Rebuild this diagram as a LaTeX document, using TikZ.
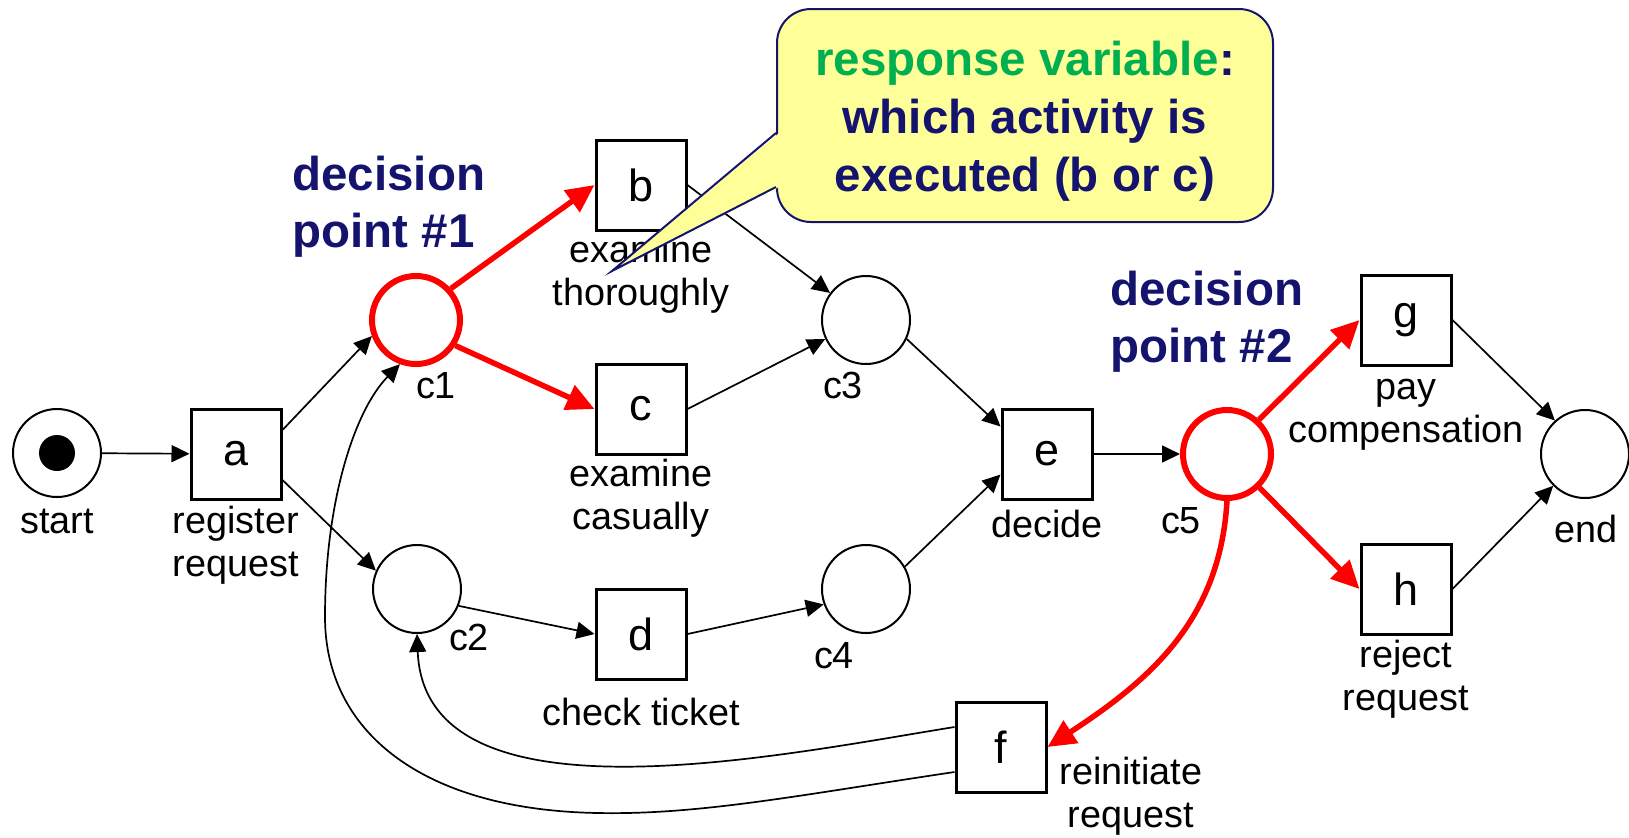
\documentclass[tikz,border=0pt]{standalone}
\usepackage{fontspec}
\setmainfont{Liberation Sans}
\usetikzlibrary{arrows.meta}
\definecolor{navy}{RGB}{20,20,110}
\definecolor{callfill}{RGB}{255,255,153}
\definecolor{respgreen}{RGB}{0,176,80}
\begin{document}
\begin{tikzpicture}[x=0.5pt,y=-0.5pt,
  place/.style={circle,draw,line width=1pt,minimum size=44pt,inner sep=0pt},
  redplace/.style={place,draw=red,line width=3pt},
  token/.style={circle,fill=black,minimum size=18pt,inner sep=0pt},
  trans/.style={rectangle,draw,line width=1.5pt,minimum size=45pt,inner sep=0pt,font=\fontsize{22.5}{25}\selectfont},
  lbl/.style={font=\fontsize{18.9}{21.5}\selectfont,align=center,inner sep=0pt},
  dp/.style={font=\fontsize{23.75}{28.5}\selectfont\bfseries,text=navy,align=left,inner sep=0pt,anchor=west},
  conn/.style={-{Triangle[length=9pt,width=8.5pt]},line width=0.85pt},
  redconn/.style={-{Triangle[length=14pt,width=13pt]},line width=2.75pt,draw=red},
  callout/.style={rectangle,rounded corners=17pt,draw=navy,fill=callfill,line width=1pt,minimum width=248pt,minimum height=106.5pt,inner sep=0pt},
  calltext/.style={font=\fontsize{23.75}{29}\selectfont\bfseries,text=navy,align=center,inner sep=0pt}
]
\useasboundingbox (0,0) rectangle (1629,837);

% places and transitions
\node[place] (start) at (57,453) {};
\node[token] (tok) at (start) {};
\node[trans] (a) at (236,454) {a};
\node[redplace] (c1) at (416,320) {};
\node[place] (c2) at (417,589) {};
\node[trans] (b) at (641,185) {b};
\node[trans] (c) at (641,409) {c};
\node[trans] (d) at (641,634) {d};
\node[place] (c3) at (866,320) {};
\node[place] (c4) at (866,589) {};
\node[trans] (e) at (1047,454) {e};
\node[redplace] (c5) at (1227,454) {};
\node[trans] (g) at (1406,320) {g};
\node[trans] (h) at (1406,589) {h};
\node[place] (end) at (1585,454) {};
\node[trans] (f) at (1001,747) {f};

% labels
\node[lbl,anchor=base] (lstart) at (57,533) {start};
\node[lbl] (la) at (236,545) {register\\request};
\node[lbl,anchor=base] (lc1) at (436,398) {c1};
\node[lbl,anchor=base] (lc2) at (469,650) {c2};
\node[lbl] (lb) at (641,274.5) {examine\\thoroughly};
\node[lbl] (lc) at (641,498) {examine\\casually};
\node[lbl,anchor=base] (ld) at (641,725) {check ticket};
\node[lbl,anchor=base] (lc3) at (843,398) {c3};
\node[lbl,anchor=base] (lc4) at (834,668) {c4};
\node[lbl,anchor=base] (le) at (1047,537) {decide};
\node[lbl,anchor=base] (lc5) at (1181,533) {c5};
\node[lbl] (lg) at (1406,414.5) {pay\\compensation};
\node[lbl,anchor=base] (lend) at (1586,542) {end};
\node[lbl] (lh) at (1406,679) {reject\\request};
\node[lbl] (lf) at (1131,796) {reinitiate\\request};

\node[dp] (dp1) at (292,206.5) {decision\\point \#1};
\node[dp] (dp2) at (1110,321.5) {decision\\point \#2};

% connectors
\draw[conn] (start) -- (a);
\draw[conn] ([yshift=12pt]a.east) -- (c1.200);
\draw[conn] ([yshift=-13pt]a.east) -- (c2.156);
\draw[redconn] (c1.42) -- (b.west);
\draw[redconn] (c1.-33) -- (c.west);
\draw[conn] (b.east) -- (c3.143);
\draw[conn] (c.east) -- (c3.205);
\draw[conn] (c2.-22) -- (d.west);
\draw[conn] (d.east) -- (c4.200);
\draw[conn] (c3.-25) -- ([yshift=-9.5pt]e.north west);
\draw[conn] (c4.30) -- ([yshift=13pt]e.south west);
\draw[conn] (e) -- (c5);
\draw[redconn] (c5.47) -- (g.west);
\draw[redconn] (c5.-46) -- (h.west);
\draw[conn] (g.east) -- (end.132);
\draw[conn] (h.east) -- (end.225);
\draw[redconn] (c5.south) .. controls (1220,620) and (1150,680) .. (f.east);
\draw[conn] ([yshift=10pt]f.west) .. controls (780,755) and (425,830) .. (c2.south);
\draw[conn] ([yshift=-12.5pt]f.west) .. controls (800,795) and (700,815) .. (598,813)
  .. controls (420,810) and (325,730) .. (325,617)
  .. controls (325,500) and (355,410) .. (c1.250);

% callout
\node[callout] (call) at (1025,115.5) {};
\coordinate (tip) at (612,271);
\fill[callfill] (tip) -- ([xshift=1.5pt,yshift=-8.75pt]call.west) -- ([xshift=1.5pt,yshift=-35.75pt]call.west) -- cycle;
\draw[navy,line width=1pt] ([yshift=-8.75pt]call.west) -- (tip) -- ([yshift=-35.75pt]call.west);
\node[calltext] (ctext) at (1025,121.5) {\textcolor{respgreen}{response variable}:\\which activity is\\executed (b or c)};
\end{tikzpicture}
\end{document}
